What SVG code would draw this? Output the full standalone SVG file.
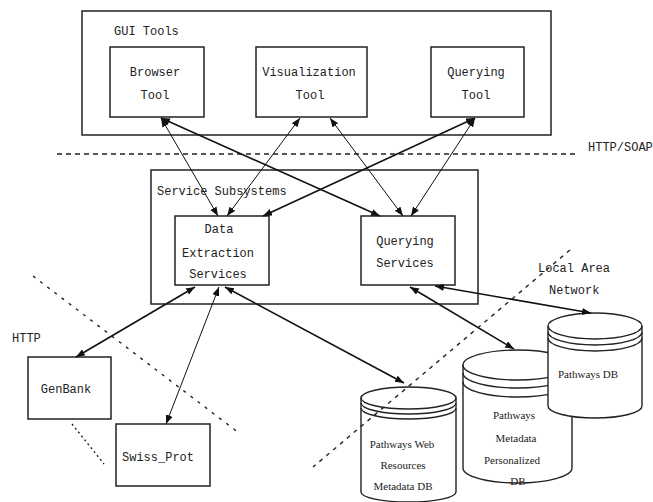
<svg xmlns="http://www.w3.org/2000/svg" width="653" height="502" viewBox="0 0 653 502">
<defs>
<marker id="ah" markerUnits="userSpaceOnUse" markerWidth="10" markerHeight="8" refX="9" refY="3.5" orient="auto-start-reverse">
<path d="M0,0 L9,3.5 L0,7 z" fill="#111"/>
</marker>
<style>
.box{fill:#fff;stroke:#222;stroke-width:1.5}
.grp{fill:none;stroke:#222;stroke-width:1.5}
.t{font-family:"Liberation Mono",monospace;font-size:12px;fill:#222}
.c{text-anchor:middle}
.s{font-family:"Liberation Serif",serif;font-size:11px;fill:#222;text-anchor:middle}
.cyl{fill:#fff;stroke:#222;stroke-width:1.4}
.arc{fill:none;stroke:#222;stroke-width:1.4}
.cn{fill:none;stroke:#111;stroke-width:1;marker-start:url(#ah);marker-end:url(#ah)}
.cb{stroke-width:1.6}
.dash{fill:none;stroke:#222;stroke-width:1.4}
</style>
</defs>
<rect width="653" height="502" fill="#fff"/>

<g id="boundaries">
<line class="dash" x1="57" y1="154" x2="578" y2="154" stroke-dasharray="5,4"/>
<text class="t" x="588" y="151">HTTP/SOAP</text>
<line class="dash" x1="33" y1="276" x2="239" y2="433" stroke-dasharray="3,6"/>
<text class="t" x="12" y="342">HTTP</text>
<line class="dash" x1="72" y1="424" x2="104" y2="464" stroke-dasharray="2,3"/>
</g>

<g id="gui-tools">
<rect class="grp" x="82" y="11" width="469" height="124"/>
<text class="t" x="114" y="35">GUI Tools</text>
</g>
<g id="browser-tool">
<rect class="box" x="110" y="47" width="94" height="70"/>
<text class="t c" x="155" y="76">Browser</text>
<text class="t c" x="155" y="99">Tool</text>
</g>
<g id="visualization-tool">
<rect class="box" x="256" y="47" width="111" height="70"/>
<text class="t c" x="309" y="76">Visualization</text>
<text class="t c" x="310" y="99">Tool</text>
</g>
<g id="querying-tool">
<rect class="box" x="431" y="47" width="93" height="70"/>
<text class="t c" x="476" y="76">Querying</text>
<text class="t c" x="476" y="99">Tool</text>
</g>

<g id="service-subsystems">
<rect class="grp" x="151" y="170" width="327" height="134"/>
<text class="t" x="157" y="195">Service Subsystems</text>
</g>
<g id="data-extraction-services">
<rect class="box" x="175" y="216" width="94" height="69"/>
<text class="t c" x="219" y="233">Data</text>
<text class="t c" x="218" y="257">Extraction</text>
<text class="t c" x="218" y="278">Services</text>
</g>
<g id="querying-services">
<rect class="box" x="361" y="216" width="94" height="69"/>
<text class="t c" x="405" y="245">Querying</text>
<text class="t c" x="405" y="267">Services</text>
</g>

<g id="genbank">
<rect class="box" x="28" y="357" width="83" height="62"/>
<text class="t c" x="66" y="393">GenBank</text>
</g>
<g id="swiss-prot">
<rect class="box" x="116" y="424" width="94" height="62"/>
<text class="t c" x="158" y="461">Swiss_Prot</text>
</g>

<g id="pathways-metadata-personalized-db">
<path class="cyl" d="M463,365 V468 A54.5,15 0 0 0 572,468 V365 A54.5,15 0 0 0 463,365 z"/>
<path class="arc" d="M463,365 A54.5,15 0 0 0 572,365 M463,373 A54.5,15 0 0 0 572,373 M463,382 A54.5,15 0 0 0 572,382"/>
<text class="s" x="514" y="419">Pathways</text>
<text class="s" x="516" y="442">Metadata</text>
<text class="s" x="512" y="464">Personalized</text>
<text class="s" x="518" y="485">DB</text>
</g>
<g id="pathways-db">
<path class="cyl" d="M548,326 V406 A47,12 0 0 0 642,406 V326 A47,13 0 0 0 548,326 z"/>
<path class="arc" d="M548,326 A47,13 0 0 0 642,326 M548,332 A47,13 0 0 0 642,332 M548,338 A47,13 0 0 0 642,338"/>
<text class="s" x="588" y="378">Pathways DB</text>
</g>
<g id="pathways-web-resources-metadata-db">
<path class="cyl" d="M361,398 V492 A47.5,10 0 0 0 456,492 V398 A47.5,11 0 0 0 361,398 z"/>
<path class="arc" d="M361,398 A47.5,11 0 0 0 456,398 M361,403 A47.5,11 0 0 0 456,403 M361,408 A47.5,11 0 0 0 456,408"/>
<text class="s" x="402" y="448">Pathways Web</text>
<text class="s" x="403" y="469">Resources</text>
<text class="s" x="403" y="490">Metadata DB</text>
</g>

<g id="lan">
<line class="dash" x1="570" y1="250" x2="313" y2="467" stroke-dasharray="4,5" stroke-width="1.2"/>
<text class="t" x="538" y="272">Local Area</text>
<text class="t" x="549" y="294">Network</text>
</g>

<g id="connectors">
<line class="cn" x1="161" y1="118" x2="218" y2="216"/>
<line class="cn cb" x1="161" y1="118" x2="380" y2="216"/>
<line class="cn" x1="300" y1="118" x2="227" y2="216"/>
<line class="cn" x1="330" y1="118" x2="403" y2="216"/>
<line class="cn cb" x1="475" y1="118" x2="263" y2="216"/>
<line class="cn" x1="475" y1="118" x2="411" y2="216"/>
<line class="cn cb" x1="195" y1="287" x2="76" y2="357"/>
<line class="cn" x1="219" y1="287" x2="166" y2="424"/>
<line class="cn cb" x1="225" y1="287" x2="404" y2="383"/>
<line class="cn cb" x1="410" y1="287" x2="514" y2="349"/>
<line class="cn cb" x1="435" y1="286" x2="591" y2="313"/>
</g>
</svg>
